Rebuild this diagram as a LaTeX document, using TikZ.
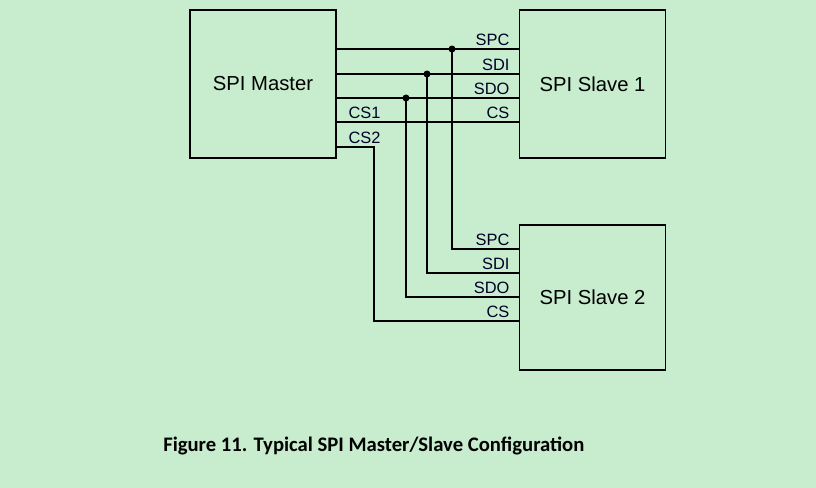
\documentclass[tikz,border=0pt]{standalone}
\usepackage{fontspec}
\setmainfont{Liberation Sans}
\newfontfamily\capfont{Carlito}
\begin{document}
\begin{tikzpicture}[x=0.75pt,y=-0.75pt,
  box/.style={draw,line width=1.2pt,minimum width=146*0.75pt,minimum height=148*0.75pt,font=\fontsize{15.2}{17}\selectfont},
  sig/.style={line width=1.2pt},
  lab/.style={font=\fontsize{12.3}{13}\selectfont,text=black!85!blue,inner sep=1pt},
  dot/.style={circle,fill,inner sep=0pt,minimum size=7*0.75pt}]
\fill[fill={rgb,255:red,200;green,236;blue,206}] (0,0) rectangle (816,488);
\useasboundingbox (0,0) rectangle (816,488);
\node[box] (m) at (263,84) {SPI Master};
\node[box] (s1) at (592.5,84) {SPI Slave 1};
\node[box,minimum height=145*0.75pt] (s2) at (592.5,297.5) {SPI Slave 2};
% coordinates
\coordinate (m1) at (336,49); \coordinate (m2) at (336,74); \coordinate (m3) at (336,98); \coordinate (m4) at (336,122); \coordinate (m5) at (336,147);
\coordinate (a1) at (519,49); \coordinate (a2) at (519,74); \coordinate (a3) at (519,98); \coordinate (a4) at (519,122);
\coordinate (b1) at (519,249); \coordinate (b2) at (519,273); \coordinate (b3) at (519,297); \coordinate (b4) at (519,321);
\node[dot] (d1) at (452,49) {}; \node[dot] (d2) at (427,74) {}; \node[dot] (d3) at (406,98) {};
\draw[sig] (m1) -- (a1); \draw[sig] (m2) -- (a2); \draw[sig] (m3) -- (a3); \draw[sig] (m4) -- (a4);
\draw[sig] (d1.center) |- (b1); \draw[sig] (d2.center) |- (b2); \draw[sig] (d3.center) |- (b3);
\coordinate (c2) at (374,147);
\draw[sig] (m5) -- (c2) |- (b4);
% labels
\node[lab,anchor=south east] (l1) at (511,47) {SPC};
\node[lab,anchor=south east] (l2) at (511,72) {SDI};
\node[lab,anchor=south east] (l3) at (511,96) {SDO};
\node[lab,anchor=south east] (l4) at (511,120) {CS};
\node[lab,anchor=south west] (l5) at (347,120) {CS1};
\node[lab,anchor=south west] (l6) at (347,145) {CS2};
\node[lab,anchor=south east] (k1) at (511,247) {SPC};
\node[lab,anchor=south east] (k2) at (511,271) {SDI};
\node[lab,anchor=south east] (k3) at (511,295) {SDO};
\node[lab,anchor=south east] (k4) at (511,319) {CS};
\node[font=\capfont\bfseries\fontsize{15.5}{17}\selectfont,anchor=west,inner sep=0pt] (cap) at (163,446) {Figure 11. Typical SPI Master/Slave Configuration};
\end{tikzpicture}
\end{document}
